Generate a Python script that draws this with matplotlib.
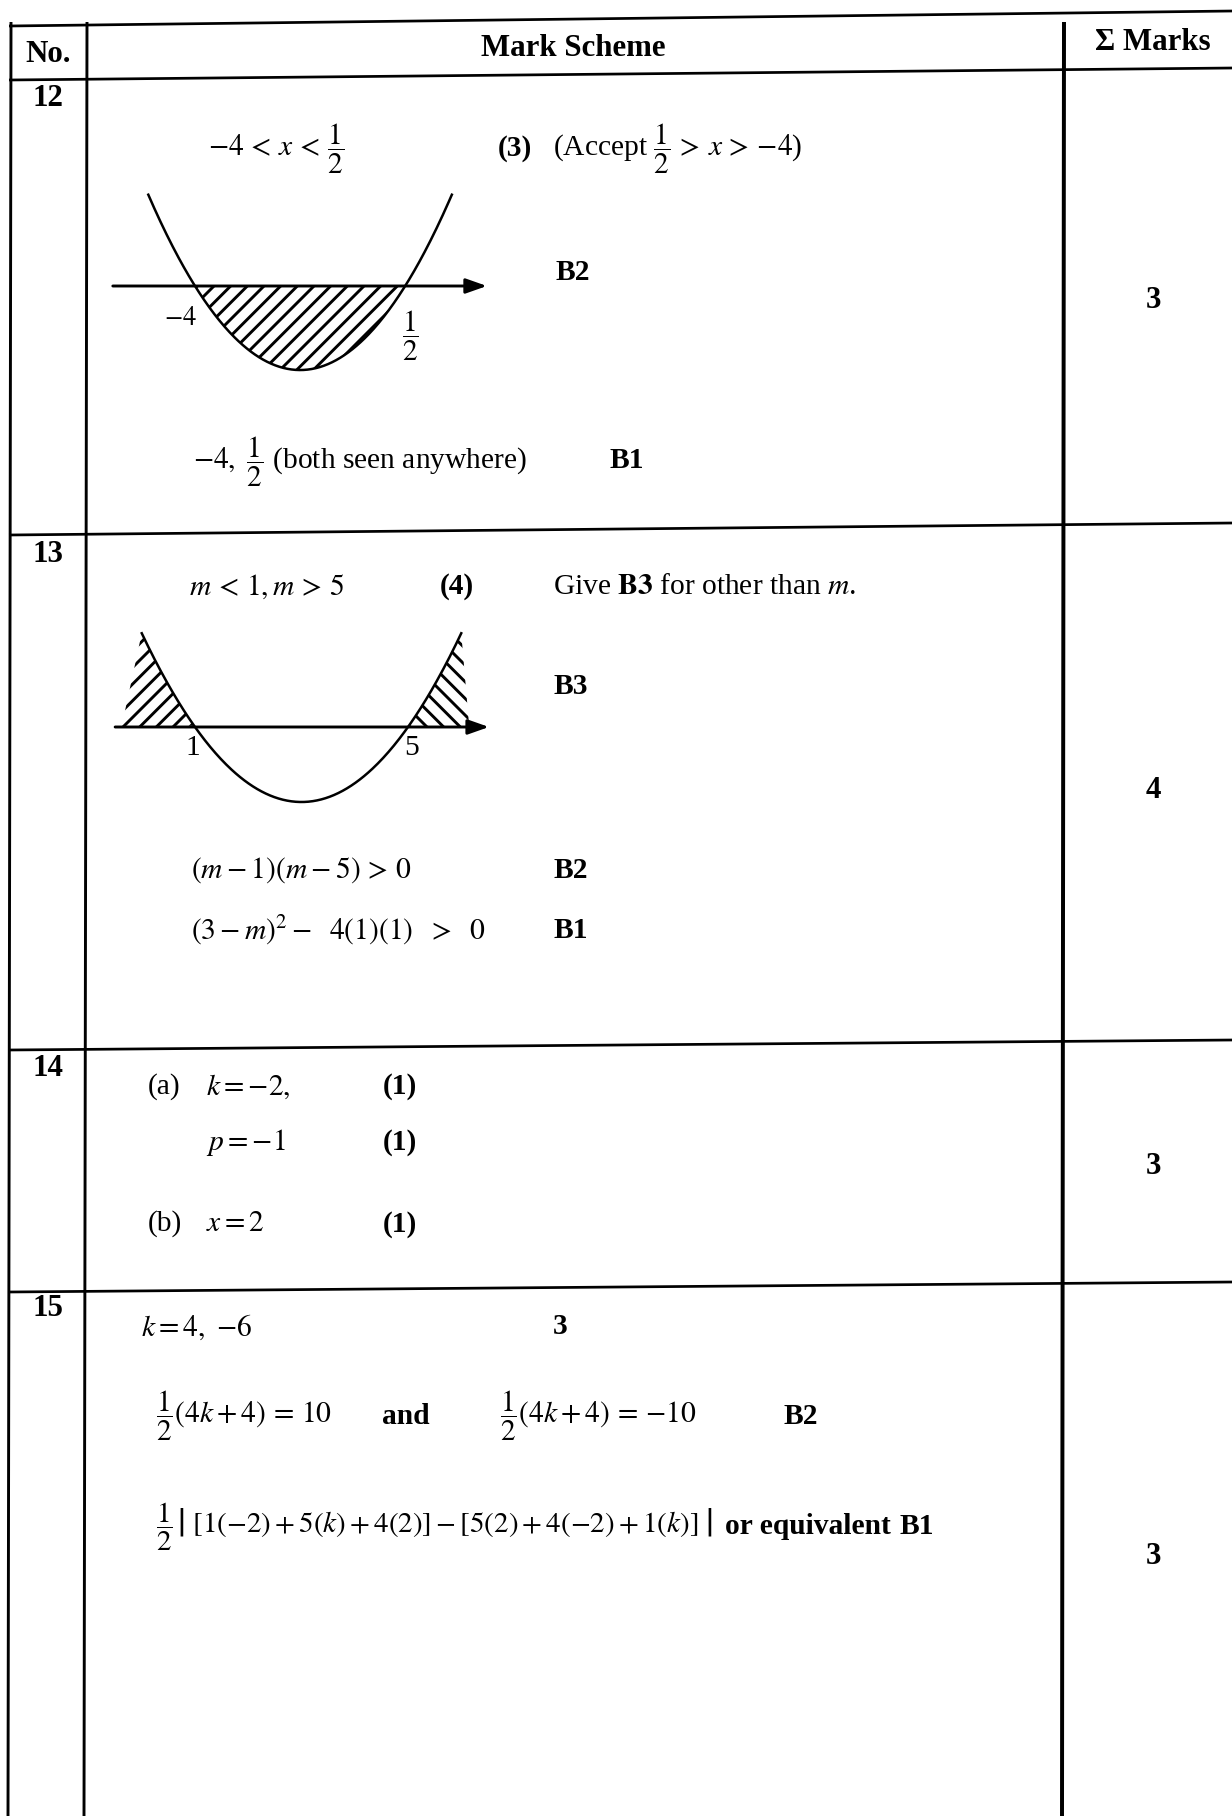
import numpy as np
import matplotlib
matplotlib.use('Agg')
import matplotlib.pyplot as plt

plt.rcParams['font.family'] = 'Liberation Serif'
plt.rcParams['mathtext.fontset'] = 'stix'
plt.rcParams['hatch.linewidth'] = 1.4

W, H, dpi = 1232, 1816, 150
fs = 14.2    # body text (pt)
fsb = 14.8   # bold table headings

# table contents
header = ['No.', 'Mark Scheme', 'Σ Marks']
question_no = ['12', '13', '14', '15']
total_marks = ['3', '4', '3', '3']

# sketch of q12: y = (x+4)(x-1/2), shaded below the axis
q12_roots = [-4, 0.5]
q12_curve = [-5.0, 1.5]
q12_axis = [-5.76, 2.25]
# sketch of q13: y = (m-1)(m-5), shaded above the axis outside the roots
q13_roots = [1, 5]
q13_curve = [0.0, 6.0]
q13_axis = [-0.5, 6.52]
q13_shade = [-0.38, 6.15]

fig = plt.figure(figsize=(W/dpi, H/dpi), dpi=dpi)
ax = fig.add_axes([0, 0, 1, 1])
ax.set_xlim(0, W)
ax.set_ylim(H, 0)
ax.axis('off')

# grid lines (scan is slightly skewed)
hl_left = [26, 80, 535, 1050, 1292]
hl_right = [11, 68, 523, 1040, 1282]
for yl, yr in zip(hl_left, hl_right):
    ax.plot([9, W], [yl, yr], color='k', lw=1.3, solid_capstyle='butt')
vl_top = [11, 87, 1064]
vl_bot = [8, 84, 1062]
vl_w = [1.4, 1.4, 1.9]
for xt, xb, w in zip(vl_top, vl_bot, vl_w):
    ax.plot([xt, xb], [22, H], color='k', lw=w, solid_capstyle='butt')

bold = dict(fontsize=fsb, fontweight='bold', ha='center', va='center')
ax.text(48, 54, header[0], **bold)
ax.text(573, 48, header[1], **bold)
ax.text(1153, 43, header[2], **bold)

no_y = [99, 555, 1068, 1309]
for s, y in zip(question_no, no_y):
    ax.text(48, y, s, **bold)
mk_y = [300, 790, 1166, 1556]
for s, y in zip(total_marks, mk_y):
    ax.text(1153, y, s, **bold)

# mark scheme body: (x, y, text, bold, size factor)
body = [
    (208, 149, r'$-4\, <\, x\, <\, \dfrac{1}{2}$', False, 1),
    (498, 149, '(3)', True, 1),
    (553, 149, r'(Accept $\dfrac{1}{2}\, >\, x\, >\, {-4}$)', False, 1),
    (555, 272, 'B2', True, 1),
    (193, 462, r'$-4,\ \dfrac{1}{2}$ (both seen anywhere)', False, 1),
    (610, 460, 'B1', True, 1),
    (189, 587, r'$m\, <\, 1, m\, >\, 5$', False, 1),
    (440, 587, '(4)', True, 1),
    (553, 587, r'Give $\mathbf{B3}$ for other than $m$.', False, 1),
    (553, 687, 'B3', True, 1),
    (191, 870, r'$(m-1)(m-5)\, >\, 0$', False, 1),
    (553, 870, 'B2', True, 1),
    (191, 930, r'$(3-m)^2 -\;\ 4(1)(1)\ \ >\ \ 0$', False, 1),
    (553, 930, 'B1', True, 1),
    (148, 1087, '(a)', False, 1),
    (206, 1087, r'$k = {-2},$', False, 1),
    (383, 1087, '(1)', True, 1),
    (206, 1142, r'$p = {-1}$', False, 1),
    (383, 1142, '(1)', True, 1),
    (148, 1224, '(b)', False, 1),
    (206, 1224, r'$x = 2$', False, 1),
    (383, 1224, '(1)', True, 1),
    (141, 1327, r'$k = 4,\ {-6}$', False, 1),
    (553, 1327, '3', True, 1),
    (156, 1416, r'$\dfrac{1}{2}(4k+4)\, =\, 10$', False, 1),
    (382, 1416, 'and', True, 1),
    (500, 1416, r'$\dfrac{1}{2}(4k+4)\, =\, {-10}$', False, 1),
    (784, 1416, 'B2', True, 1),
    (156, 1527, r'$\dfrac{1}{2}\,\left|\ [1(-2)+5(k)+4(2)]-[5(2)+4(-2)+1(k)]\ \right|$', False, 0.98),
    (725, 1527, 'or equivalent', True, 1),
    (900, 1527, 'B1', True, 1),
]
for x, y, s, b, k in body:
    ax.text(x, y, s, fontsize=fs*k, fontweight='bold' if b else 'normal', ha='left', va='center')


def sketch_axes(box, origin, scale):
    # box = (left, top, right, bottom) px; origin = px of (r0, 0); scale = px per unit
    x0, y0, x1, y1 = box
    (ox, oy), (sx, sy), r0 = origin, scale[:2], scale[2]
    a = fig.add_axes([x0/W, 1 - y1/H, (x1 - x0)/W, (y1 - y0)/H])
    a.set_xlim(r0 + (x0 - ox)/sx, r0 + (x1 - ox)/sx)
    a.set_ylim((oy - y1)/sy, (oy - y0)/sy)
    a.axis('off')
    return a


def x_axis(a, lims):
    a.annotate('', xy=(lims[1], 0), xytext=(lims[0], 0),
               arrowprops=dict(arrowstyle='-|>,head_length=0.85,head_width=0.3',
                               mutation_scale=10, lw=1.4, color='k',
                               shrinkA=0, shrinkB=0))


# q12 sketch
a1 = sketch_axes((100, 170, 500, 390), (195, 286), (46.7, 16.6, q12_roots[0]))
xs = np.linspace(q12_curve[0], q12_curve[1], 300)
ys = (xs - q12_roots[0])*(xs - q12_roots[1])
a1.plot(xs, ys, color='k', lw=1.2)
inside = (xs >= q12_roots[0]) & (xs <= q12_roots[1])
a1.fill_between(xs[inside], ys[inside], 0, facecolor='none', edgecolor='k', hatch='///', lw=0)
x_axis(a1, q12_axis)
a1.text(q12_roots[0] + 0.05, -1.93, r'$-4$', fontsize=fs*0.9, ha='right', va='center')
a1.text(q12_roots[1] + 0.11, -3.0, r'$\dfrac{1}{2}$', fontsize=fs, ha='center', va='center')

# q13 sketch
a2 = sketch_axes((100, 600, 500, 830), (195, 727), (53.25, 18.75, q13_roots[0]))
xs = np.linspace(q13_curve[0], q13_curve[1], 300)
ys = (xs - q13_roots[0])*(xs - q13_roots[1])
a2.plot(xs, ys, color='k', lw=1.2)
left = xs <= q13_roots[0]
a2.fill(np.r_[xs[left], q13_shade[0]], np.r_[ys[left], 0],
        facecolor='none', edgecolor='k', hatch='///', lw=0)
right = xs >= q13_roots[1]
a2.fill(np.r_[xs[right], q13_shade[1]], np.r_[ys[right], 0],
        facecolor='none', edgecolor='k', hatch='\\\\\\', lw=0)
x_axis(a2, q13_axis)
a2.text(q13_roots[0] - 0.05, -1.12, '1', fontsize=fs, ha='center', va='center')
a2.text(q13_roots[1] + 0.07, -1.12, '5', fontsize=fs, ha='center', va='center')

fig.savefig('out.png', dpi=dpi)
